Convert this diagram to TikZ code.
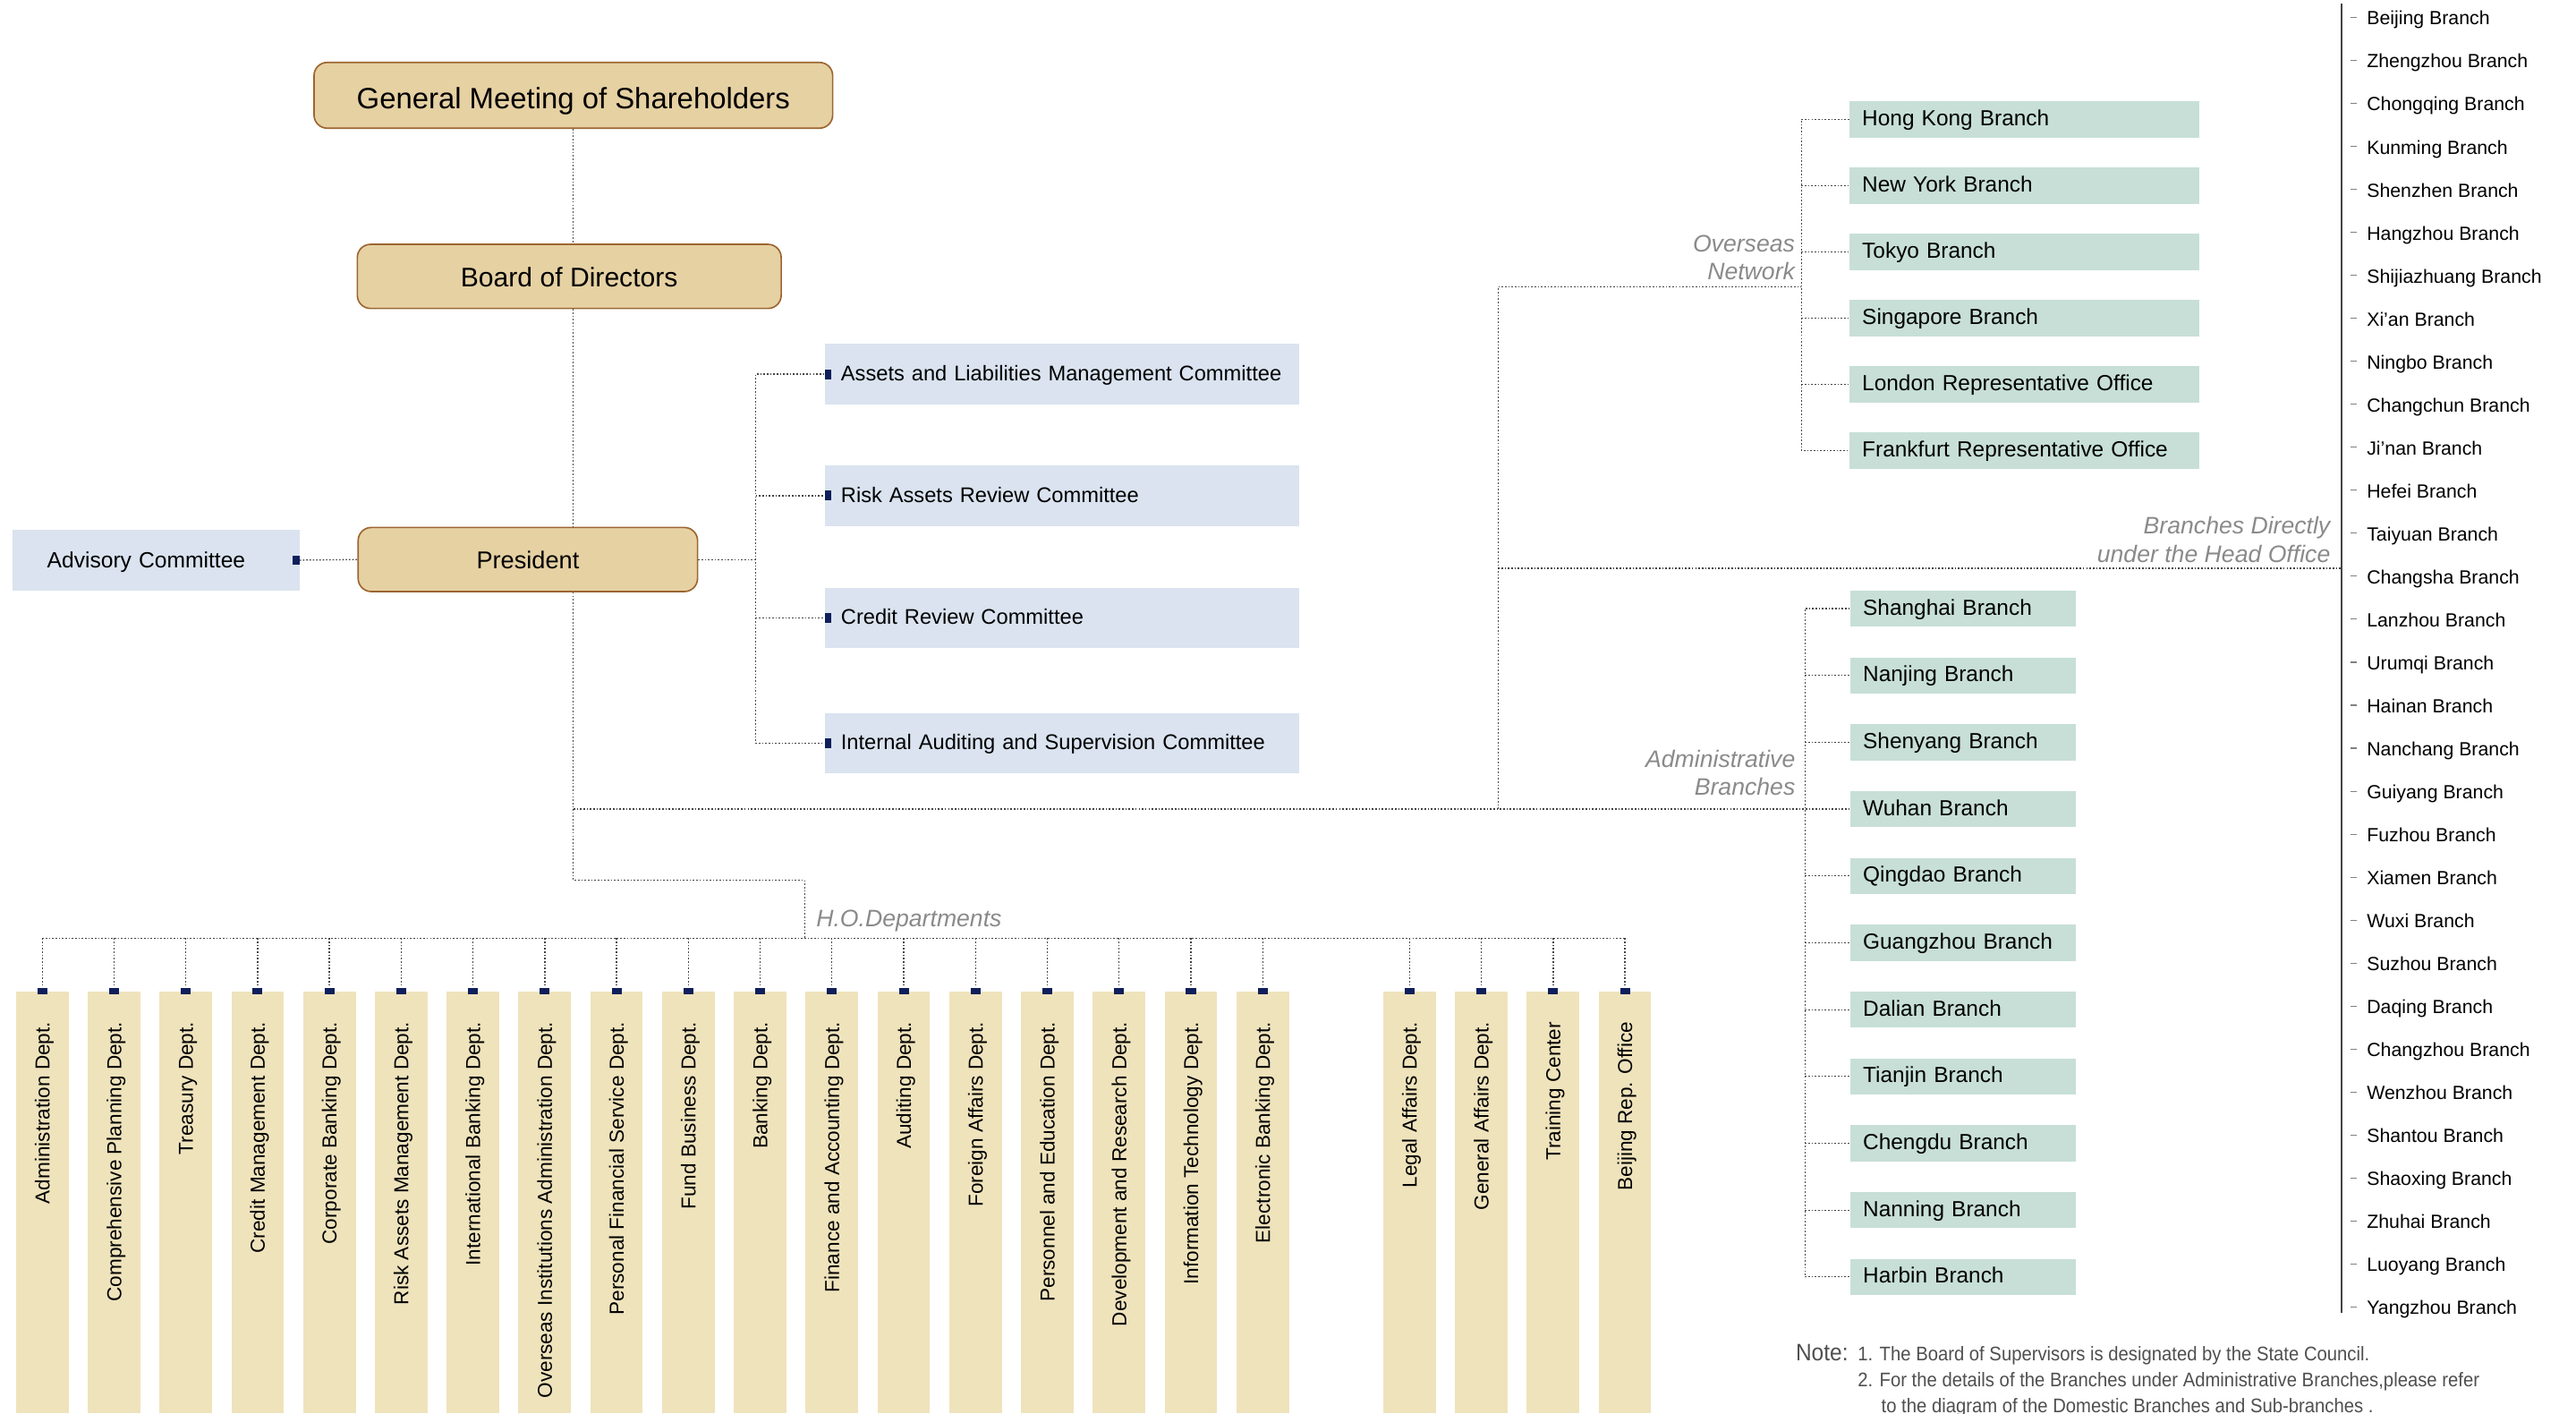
\documentclass[tikz,border=0pt]{standalone}
\usepackage{fontspec}
\setmainfont{Liberation Sans}
\newfontfamily\narrowfont[FakeStretch=0.92]{Liberation Sans}

\definecolor{topfill}{HTML}{E6D1A3}
\definecolor{topline}{HTML}{9C6530}
\definecolor{cmtfill}{HTML}{DAE3EF}
\definecolor{brfill}{HTML}{C7DFD7}
\definecolor{deptfill}{HTML}{EFE3BC}
\definecolor{marknavy}{HTML}{0E1F5B}
\definecolor{linegray}{HTML}{444444}
\definecolor{labelgray}{HTML}{8A8A8A}
\definecolor{notegray}{HTML}{4F4F4F}

\tikzset{
  topbox/.style={draw=topline, line width=0.9pt, fill=topfill, rounded corners=8pt, inner sep=0pt, text depth=0pt},
  sidebox/.style={fill=cmtfill, anchor=west, inner ysep=0pt, align=left, text depth=0pt},
  cmtbox/.style={sidebox, minimum height=36.6pt, text width=268.8pt, inner xsep=10pt, text height=7.8pt, font=\fontsize{12.9}{15}\selectfont},
  ovbox/.style={sidebox, fill=brfill, minimum height=22.2pt, text width=197.2pt, inner xsep=7.8pt, text height=7.6pt, font=\fontsize{13.3}{15}\selectfont},
  adbox/.style={ovbox, minimum height=21.9pt, text width=121.8pt},
  deptcol/.style={fill=deptfill, anchor=north, minimum width=32pt, minimum height=257pt, inner sep=0pt},
  depttext/.style={rotate=90, anchor=east, inner sep=0pt, text height=8.8pt, text depth=0pt, font=\fontsize{12.3}{14}\selectfont},
  sq/.style={fill=marknavy, inner sep=0pt},
  conn/.style={draw=linegray, line width=0.7pt, dash pattern=on 0.9pt off 1.1pt},
  grouplabel/.style={text=labelgray, font=\fontsize{14.5}{17}\selectfont\itshape, align=right, inner sep=0pt, anchor=south east},
  listitem/.style={anchor=base west, inner sep=0pt, font=\fontsize{11.6}{13}\selectfont},
  notetext/.style={anchor=base west, inner sep=0pt, text=notegray, font=\narrowfont\fontsize{12}{14}\selectfont},
}

\begin{document}
\begin{tikzpicture}[x=1pt, y=-1pt]
  \useasboundingbox (0,0) rectangle (1568,860);

  %TOP
  \node[topbox, minimum width=315.7pt, minimum height=40pt, text height=16pt, font=\fontsize{17.9}{20}\selectfont] (gm) at (349,58) {General Meeting of Shareholders};
  \node[topbox, minimum width=258pt, minimum height=39pt, text height=12.2pt, font=\fontsize{16.4}{19}\selectfont] (board) at (346.5,168.2) {Board of Directors};
  \node[topbox, minimum width=206.6pt, minimum height=39pt, text height=11pt, font=\fontsize{14.8}{17}\selectfont] (pres) at (321.3,340.5) {President};
  \node[sidebox, minimum width=174.4pt, minimum height=36.6pt, text width=132.6pt, inner xsep=20.9pt, text height=8.8pt, font=\fontsize{13.4}{15}\selectfont] (adv) at (7.6,340.9) {Advisory Committee};
  \node[sq, minimum width=4.2pt, minimum height=5.4pt, anchor=east] (advmark) at (adv.east) {};

  \draw[conn] (adv.east) -- (pres.west);
  \draw[conn] (gm.south) -- (gm.south |- board.north);
  \draw[conn] (gm.south |- board.south) -- (gm.south |- pres.north);

  %COMMITTEES
  \coordinate (cbus) at (460,340.5);
  \foreach \nm/\y [count=\k] in {Assets and Liabilities Management Committee/227.7, Risk Assets Review Committee/301.7, Credit Review Committee/376.05, Internal Auditing and Supervision Committee/452.15} {
    \node[cmtbox] (c\k) at (501.7,\y) {\nm};
    \node[sq, minimum width=4pt, minimum height=6pt, anchor=west] (cm\k) at (c\k.west) {};
  }
  \draw[conn] (pres.east) -- (cbus);
  \draw[conn] (c1.west) -| (cbus) |- (c4.west);
  \draw[conn] (c2.west -| cbus) -- (c2.west);
  \draw[conn] (c3.west -| cbus) -- (c3.west);

  %BRANCHES
  \foreach \nm [count=\k] in {Hong Kong Branch, New York Branch, Tokyo Branch, Singapore Branch, London Representative Office, Frankfurt Representative Office}
    \node[ovbox] (o\k) at (1125.5,{72.6+40.3*(\k-1)}) {\nm};
  \foreach \nm [count=\k] in {Shanghai, Nanjing, Shenyang, Wuhan, Qingdao, Guangzhou, Dalian, Tianjin, Chengdu, Nanning, Harbin}
    \node[adbox] (a\k) at (1126,{370.4+40.67*(\k-1)}) {\nm\ Branch};

  \coordinate (split) at (911.8,492.4);
  \coordinate (ovbus) at (1096.5,174.6);
  \coordinate (adbus) at (1098.7,492.4);
  \coordinate (dline) at (1425.2,345.9);

  \draw[conn] (gm.south |- pres.south) -- (gm.south |- a4.west) -- (a4.west);
  \draw[conn] (split) |- (ovbus);
  \draw[conn] (split |- dline) -- (dline);
  \draw[conn] (o1.west) -| (ovbus) |- (o6.west);
  \foreach \k in {2,...,5}
    \draw[conn] (o\k.west -| ovbus) -- (o\k.west);
  \draw[conn] (a1.west) -| (adbus) |- (a11.west);
  \foreach \k in {2,3,5,6,7,8,9,10}
    \draw[conn] (a\k.west -| adbus) -- (a\k.west);

  \node[grouplabel] (ovlabel) at (1092.7,170.5) {Overseas\\Network};
  \node[grouplabel] (adlabel) at (1092.9,484.3) {Administrative\\Branches};
  \node[grouplabel] (dirlabel) at (1418.6,342.4) {Branches Directly\\under the Head Office};

  %DIRECT BRANCHES
  \draw[linegray, line width=0.8pt] (1425.2,2) -- (1425.2,799.2);
  \foreach \nm [count=\i from 0] in {Beijing, Zhengzhou, Chongqing, Kunming, Shenzhen, Hangzhou, Shijiazhuang, Xi’an, Ningbo, Changchun, Ji’nan, Hefei, Taiyuan, Changsha, Lanzhou, Urumqi, Hainan, Nanchang, Guiyang, Fuzhou, Xiamen, Wuxi, Suzhou, Daqing, Changzhou, Wenzhou, Shantou, Shaoxing, Zhuhai, Luoyang, Yangzhou} {
    \node[listitem] (l\i) at (1440.5,{15.2+26.16*\i}) {\nm\ Branch};
    \draw[gray, line width=0.6pt] ([shift={(-10,-4.6)}]l\i.base west) -- ++(4.3,0);
  }

  %DEPARTMENTS
  \coordinate (hobend) at (349,535.6);
  \coordinate (hobus) at (489.7,571);
  \draw[conn] (gm.south |- a4.west) -- (hobend) -| (hobus);
  \node[grouplabel, anchor=base west, align=left] (holabel) at (496.7,563.7) {H.O.Departments};
  \foreach \i/\nm in {0/Administration Dept., 1/Comprehensive Planning Dept., 2/Treasury Dept., 3/Credit Management Dept., 4/Corporate Banking Dept., 5/Risk Assets Management Dept., 6/International Banking Dept., 7/Overseas Institutions Administration Dept., 8/Personal Financial Service Dept., 9/Fund Business Dept., 10/Banking Dept., 11/Finance and Accounting Dept., 12/Auditing Dept., 13/Foreign Affairs Dept., 14/Personnel and Education Dept., 15/Development and Research Dept., 16/Information Technology Dept., 17/Electronic Banking Dept., 19/Legal Affairs Dept., 20/General Affairs Dept., 21/Training Center, 22/Beijing Rep. Office} {
    \pgfmathsetmacro\cx{25.7+43.7*\i+2*(\i>18)}
    \node[deptcol] (col\i) at (\cx,603) {};
    \draw[conn] (col\i.north |- hobus) -- (col\i.north);
    \node[sq, minimum width=6pt, minimum height=4pt] (dm\i) at (col\i.north) {};
    \node[depttext] (dt\i) at ([yshift=-18.7pt]col\i.north) {\nm};
  }
  \draw[conn] (col0.north |- hobus) -- (col22.north |- hobus);

  %NOTE
  \node[notetext, font=\narrowfont\fontsize{14.5}{16}\selectfont] (notehead) at (1092.9,828.2) {Note:};
  \node[notetext] (note1) at (1130.6,828.2) {1. The Board of Supervisors is designated by the State Council.};
  \node[notetext] (note2) at (1130.6,844) {2. For the details of the Branches under Administrative Branches,please refer};
  \node[notetext] (note3) at (1145,859.5) {to the diagram of the Domestic Branches and Sub-branches .};
\end{tikzpicture}
\end{document}
